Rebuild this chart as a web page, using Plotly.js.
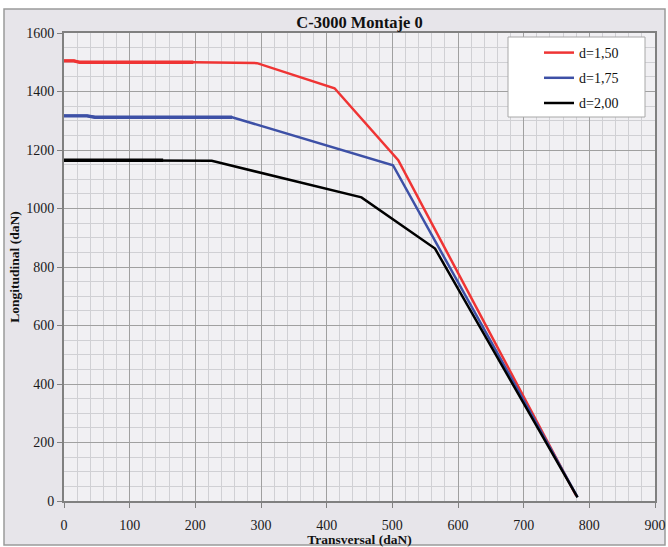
<!DOCTYPE html>
<html>
<head>
<meta charset="utf-8">
<script src="https://cdn.plot.ly/plotly-3.0.1.min.js"></script>
<style>
html,body{margin:0;padding:0;background:#ffffff;}
#chart{width:668px;height:547px;}
</style>
</head>
<body>
<div id="chart"></div>
<script>
// Series data
const seriesNames = ["d=1,50", "d=1,75", "d=2,00"];
const redX = [0, 15, 24, 197, 294, 412, 509, 780];
const redY = [1505, 1505, 1500, 1500, 1497, 1411, 1165, 18];
const redThickX = [0, 15, 24, 197];
const redThickY = [1505, 1505, 1500, 1500];
const blueX = [0, 35, 47, 256, 501, 782];
const blueY = [1317, 1317, 1312, 1312, 1148, 13];
const blueThickX = [0, 35, 47, 256];
const blueThickY = [1317, 1317, 1312, 1312];
const blackX = [0, 151, 225, 453, 565, 782];
const blackY = [1165, 1165, 1163, 1038, 863, 12];
const blackThickX = [0, 151];
const blackThickY = [1165, 1165];
const xTicks = [0, 100, 200, 300, 400, 500, 600, 700, 800, 900];
const yTicks = [0, 200, 400, 600, 800, 1000, 1200, 1400, 1600];

const colors = ["#ef3434", "#3d50a6", "#000000"];
const serif = "Liberation Serif, Times New Roman, serif";

function mainTrace(x, y, i) {
  return {x: x, y: y, type: "scatter", mode: "lines", name: seriesNames[i],
    legendgroup: "g" + i, line: {color: colors[i], width: 2.5}, hoverinfo: "skip"};
}
function thickTrace(x, y, i) {
  return {x: x, y: y, type: "scatter", mode: "lines", showlegend: false,
    legendgroup: "g" + i, line: {color: colors[i], width: 3.3}, hoverinfo: "skip"};
}

const data = [
  mainTrace(redX, redY, 0), thickTrace(redThickX, redThickY, 0),
  mainTrace(blueX, blueY, 1), thickTrace(blueThickX, blueThickY, 1),
  mainTrace(blackX, blackY, 2), thickTrace(blackThickX, blackThickY, 2)
];

const L = 64, R = 655, T = 33, B = 501, W = 668, H = 547;
const pw = R - L, ph = B - T;
function px(v) { return (v - L) / pw; }
function py(v) { return (B - v) / ph; }

const layout = {
  width: W, height: H,
  margin: {l: L, r: W - R, t: T, b: H - B, pad: 0},
  paper_bgcolor: "#ffffff",
  plot_bgcolor: "rgba(0,0,0,0)",
  font: {family: serif, size: 14, color: "#1a1a1a"},
  title: {text: "<b>C-3000 Montaje 0</b>", font: {family: serif, size: 16.5, color: "#111"},
    x: 0.5, xref: "paper", xanchor: "center", y: 1 - 22 / H, yref: "container", yanchor: "middle"},
  xaxis: {
    range: [0, 900], tickvals: xTicks, ticktext: xTicks.map(String),
    showgrid: true, gridcolor: "#a0a0a0", gridwidth: 1,
    minor: {dtick: 20, tick0: 0, showgrid: true, gridcolor: "#d0d0d4", gridwidth: 1, ticks: ""},
    showline: true, linecolor: "#808080", linewidth: 2, mirror: true,
    ticks: "outside", ticklen: 5, tickcolor: "#808080", tickwidth: 1,
    ticklabelstandoff: 5,
    tickfont: {family: serif, size: 14, color: "#1a1a1a"},
    zeroline: false, fixedrange: true,
    title: {text: "<b>Transversal (daN)</b>", font: {family: serif, size: 13.5, color: "#111"}, standoff: 1}
  },
  yaxis: {
    range: [0, 1600], tickvals: yTicks, ticktext: yTicks.map(String),
    showgrid: true, gridcolor: "#a0a0a0", gridwidth: 1,
    minor: {dtick: 50, tick0: 0, showgrid: true, gridcolor: "#d0d0d4", gridwidth: 1, ticks: ""},
    showline: true, linecolor: "#808080", linewidth: 2, mirror: true,
    ticks: "outside", ticklen: 5, tickcolor: "#808080", tickwidth: 1,
    tickfont: {family: serif, size: 14, color: "#1a1a1a"},
    zeroline: false, fixedrange: true,
    title: {text: "<b>Longitudinal (daN)</b>", font: {family: serif, size: 13.5, color: "#111"}, standoff: 3}
  },
  showlegend: true,
  legend: {
    x: px(539), y: py(37), xanchor: "left", yanchor: "top",
    bgcolor: "rgba(0,0,0,0)", borderwidth: 0,
    font: {family: serif, size: 14, color: "#111"},
    traceorder: "grouped", tracegroupgap: 4, itemwidth: 30
  },
  shapes: [
    {type: "rect", xref: "paper", yref: "paper", layer: "below",
      x0: px(4), x1: px(665), y0: py(545), y1: py(9),
      fillcolor: "#e7e5ea", line: {color: "#9a9a9a", width: 1.5}},
    {type: "rect", xref: "paper", yref: "paper", layer: "below",
      x0: 0, x1: 1, y0: 0, y1: 1,
      fillcolor: "#f1f0f3", line: {width: 0}},
    {type: "rect", xref: "paper", yref: "paper", layer: "above",
      x0: px(508), x1: px(645), y0: py(117), y1: py(37),
      fillcolor: "#ffffff", line: {color: "#a8a8a8", width: 1}}
  ]
};

Plotly.newPlot("chart", data, layout, {displayModeBar: false, staticPlot: true});
</script>
</body>
</html>
